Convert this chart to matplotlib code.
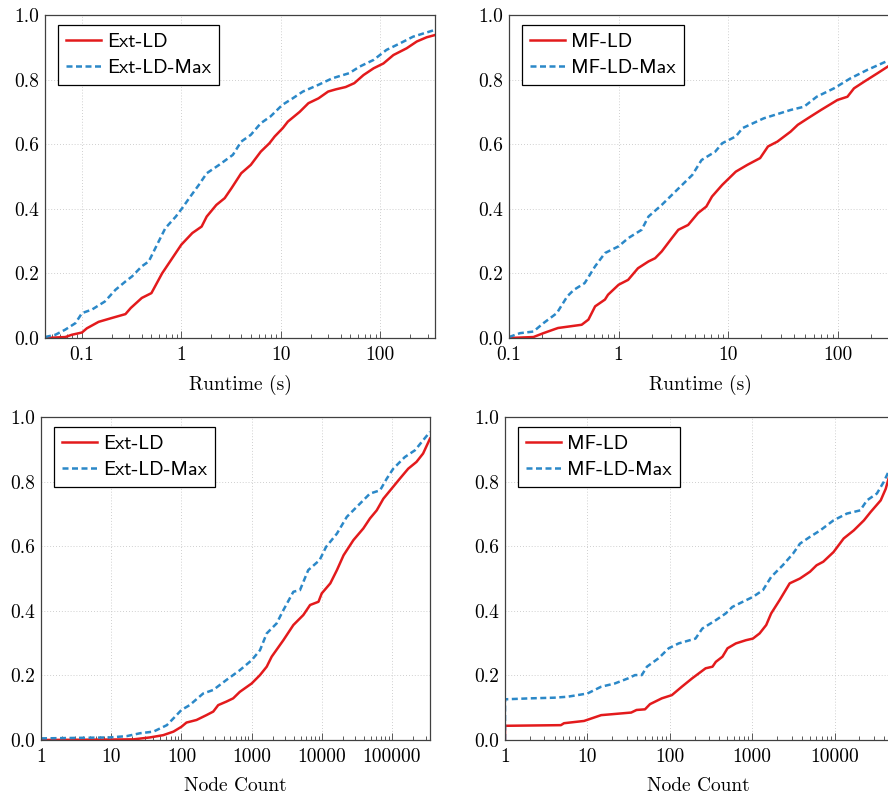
import matplotlib
matplotlib.use("Agg")
import matplotlib.pyplot as plt
from matplotlib.ticker import LogLocator, FuncFormatter, MultipleLocator, NullFormatter

plt.rcParams['axes.formatter.use_mathtext'] = True

# Runtime (s), Ext-LD vs Ext-LD-Max
rt_ext_x = [0.0425, 0.068, 0.079, 0.1, 0.112, 0.147, 0.2, 0.274, 0.31, 0.40, 0.5, 0.64, 0.81, 1.0,
            1.29, 1.6, 1.8, 2.25, 2.73, 3.2, 4.0, 5.0, 6.3, 7.7, 8.7, 10.5, 11.8, 15.5, 19, 24, 30,
            36, 45, 55, 68, 86, 108, 136, 185, 234, 294, 357]
rt_ext_y = [0.0, 0.003, 0.01, 0.017, 0.03, 0.05, 0.062, 0.074, 0.093, 0.124, 0.139, 0.20, 0.247, 0.289,
            0.325, 0.345, 0.376, 0.412, 0.433, 0.464, 0.51, 0.536, 0.577, 0.603, 0.624, 0.65, 0.67,
            0.70, 0.727, 0.742, 0.763, 0.77, 0.777, 0.789, 0.814, 0.835, 0.85, 0.876, 0.897, 0.918,
            0.931, 0.938]
rt_extmax_x = [0.0425, 0.054, 0.068, 0.086, 0.1, 0.126, 0.17, 0.217, 0.274, 0.32, 0.4, 0.47, 0.57, 0.69,
               0.88, 1.02, 1.2, 1.5, 1.8, 2.4, 3.3, 4.0, 5.0, 6.3, 7.9, 10.4, 13.2, 16.7, 24, 33, 49,
               62, 86, 116, 158, 215, 357]
rt_extmax_y = [0.003, 0.01, 0.026, 0.046, 0.077, 0.088, 0.113, 0.149, 0.175, 0.191, 0.222, 0.237, 0.289,
               0.34, 0.376, 0.402, 0.433, 0.474, 0.51, 0.536, 0.567, 0.608, 0.629, 0.665, 0.686, 0.722,
               0.742, 0.763, 0.784, 0.804, 0.82, 0.84, 0.861, 0.892, 0.912, 0.933, 0.954]

# Runtime (s), MF-LD vs MF-LD-Max
rt_mf_x = [0.1, 0.167, 0.206, 0.254, 0.28, 0.46, 0.53, 0.61, 0.75, 0.80, 1.0, 1.22, 1.5, 1.87, 2.15,
           2.47, 3.05, 3.5, 4.3, 5.3, 6.3, 7.1, 8.8, 11.7, 14.9, 19.5, 23, 28, 37, 43, 53, 70, 99,
           122, 140, 174, 230, 315]
rt_mf_y = [0.0, 0.003, 0.015, 0.026, 0.031, 0.041, 0.057, 0.098, 0.119, 0.134, 0.165, 0.18, 0.216,
           0.237, 0.247, 0.268, 0.309, 0.335, 0.35, 0.387, 0.407, 0.438, 0.474, 0.515, 0.536, 0.557,
           0.593, 0.608, 0.639, 0.66, 0.68, 0.706, 0.737, 0.747, 0.773, 0.794, 0.82, 0.85]
rt_mfmax_x = [0.1, 0.126, 0.167, 0.206, 0.273, 0.34, 0.39, 0.49, 0.61, 0.75, 1.0, 1.22, 1.62, 1.87,
              2.47, 3.3, 4.7, 5.7, 7.6, 8.8, 11.7, 13.5, 21, 37, 49, 64, 92, 130, 185, 315]
rt_mfmax_y = [0.003, 0.015, 0.02, 0.046, 0.077, 0.129, 0.149, 0.17, 0.222, 0.263, 0.284, 0.309, 0.335,
              0.376, 0.412, 0.454, 0.505, 0.551, 0.577, 0.603, 0.624, 0.65, 0.68, 0.706, 0.716, 0.747,
              0.773, 0.804, 0.83, 0.865]

# Node Count, Ext-LD vs Ext-LD-Max
nc_ext_x = [1, 20.7, 35.7, 55, 77, 100, 118, 164, 227, 284, 334, 438, 546, 678, 1000, 1315, 1640,
            1930, 2830, 3930, 5450, 6800, 8960, 9970, 13200, 16400, 20400, 28200, 39000, 48500,
            60500, 75200, 98500, 129000, 170000, 223000, 277000, 347000]
nc_ext_y = [0.0, 0.002, 0.008, 0.015, 0.026, 0.041, 0.054, 0.062, 0.077, 0.088, 0.108, 0.119, 0.129,
            0.149, 0.175, 0.201, 0.227, 0.258, 0.309, 0.356, 0.387, 0.418, 0.428, 0.454, 0.485,
            0.526, 0.572, 0.619, 0.655, 0.686, 0.711, 0.747, 0.778, 0.809, 0.84, 0.861, 0.887, 0.933]
nc_extmax_x = [1, 9.5, 16.6, 25.8, 40, 62, 81, 100, 131, 204, 284, 438, 678, 1000, 1315, 1640, 2270,
               2830, 3930, 4880, 6400, 9300, 11500, 16400, 22700, 35000, 48500, 67500, 84000,
               104000, 152000, 212000, 347000]
nc_extmax_y = [0.005, 0.008, 0.012, 0.021, 0.026, 0.046, 0.072, 0.093, 0.108, 0.144, 0.155, 0.186,
               0.216, 0.247, 0.278, 0.33, 0.361, 0.402, 0.459, 0.464, 0.526, 0.557, 0.598, 0.639,
               0.691, 0.732, 0.763, 0.773, 0.809, 0.84, 0.876, 0.897, 0.954]

# Node Count, MF-LD vs MF-LD-Max
nc_mf_x = [1, 1, 4.77, 5.2, 9.1, 14.7, 34, 39.5, 50, 57.5, 80, 106, 140, 187, 272, 330, 362, 436, 502,
           633, 840, 1020, 1230, 1480, 1700, 2150, 2850, 3800, 5030, 6050, 7290, 9720, 12900,
           17100, 22700, 27400, 36300, 41800, 50000]
nc_mf_y = [0.0, 0.044, 0.046, 0.052, 0.059, 0.077, 0.085, 0.093, 0.095, 0.111, 0.129, 0.139, 0.165,
           0.191, 0.222, 0.227, 0.242, 0.258, 0.284, 0.299, 0.309, 0.314, 0.33, 0.356, 0.392,
           0.433, 0.485, 0.5, 0.521, 0.541, 0.552, 0.582, 0.624, 0.649, 0.68, 0.706, 0.742,
           0.778, 0.85]
nc_mfmax_x = [1, 1, 2.04, 3.95, 5.75, 10, 14.7, 21.5, 31.3, 37.8, 45.7, 52.8, 73, 97, 128, 205, 248,
              362, 478, 574, 770, 1020, 1350, 1700, 2350, 3130, 3800, 5030, 6700, 9700, 14100,
              20500, 24700, 32600, 39500, 50000]
nc_mfmax_y = [0.0, 0.126, 0.129, 0.131, 0.134, 0.144, 0.165, 0.175, 0.191, 0.201, 0.201, 0.227,
              0.253, 0.284, 0.299, 0.314, 0.345, 0.371, 0.392, 0.412, 0.428, 0.443, 0.464, 0.505,
              0.541, 0.577, 0.608, 0.629, 0.649, 0.68, 0.701, 0.711, 0.742, 0.763, 0.799, 0.855]

RED = '#e31a1c'
BLUE = '#2b88c8'
SPINE = '#404040'


def fmt_log(v, pos):
    return '%g' % v


def desenhar(ax, xs, ys, xs2, ys2, nomes, xlim, xlabel):
    ax.grid(True, which='major', color='#c0c0c0', linestyle=(0, (1, 2.5)), linewidth=0.6)
    ax.set_axisbelow(True)
    ax.plot(xs, ys, color=RED, lw=1.8, label=nomes[0], solid_joinstyle='round')
    ax.plot(xs2, ys2, color=BLUE, lw=1.8, dashes=(2.4, 1.4), label=nomes[1])
    ax.set_xscale('log')
    ax.set_xlim(*xlim)
    ax.set_ylim(0, 1)
    ax.xaxis.set_major_locator(LogLocator(base=10, numticks=20))
    ax.xaxis.set_minor_locator(LogLocator(base=10, subs=range(2, 10), numticks=20))
    ax.xaxis.set_major_formatter(FuncFormatter(fmt_log))
    ax.xaxis.set_minor_formatter(NullFormatter())
    ax.yaxis.set_major_locator(MultipleLocator(0.2))
    ax.yaxis.set_major_formatter(FuncFormatter(lambda v, p: '%.1f' % v))
    ax.tick_params(axis='x', which='major', direction='in', length=5, width=0.6, color=SPINE, pad=6)
    ax.tick_params(axis='x', which='minor', direction='in', length=3, width=0.6, color=SPINE)
    ax.tick_params(axis='y', which='both', length=0, pad=4)
    for lab in ax.get_xticklabels() + ax.get_yticklabels():
        lab.set_fontfamily('cmr10')
        lab.set_fontsize(14)
    for s in ax.spines.values():
        s.set_color(SPINE)
        s.set_linewidth(0.9)
    ax.set_xlabel(xlabel, family='cmr10', fontsize=14, labelpad=8)
    leg = ax.legend(loc='upper left', bbox_to_anchor=(0.033, 0.969), borderaxespad=0,
                    prop={'family': 'cmss10', 'size': 14.5}, fancybox=False, framealpha=1,
                    edgecolor='black', handlelength=1.75, handletextpad=0.3, borderpad=0.4,
                    labelspacing=0.4)
    leg.get_frame().set_linewidth(0.9)


fig = plt.figure(figsize=(8.88, 7.94), dpi=100)
ax1 = fig.add_axes([0.0507, 0.5743, 0.4392, 0.4068])
ax2 = fig.add_axes([0.5732, 0.5743, 0.432, 0.4068])
ax3 = fig.add_axes([0.0462, 0.0680, 0.4380, 0.4068])
ax4 = fig.add_axes([0.5687, 0.0680, 0.436, 0.4068])

desenhar(ax1, rt_ext_x, rt_ext_y, rt_extmax_x, rt_extmax_y, ['Ext-LD', 'Ext-LD-Max'],
         (0.0425, 357), 'Runtime (s)')
desenhar(ax2, rt_mf_x, rt_mf_y, rt_mfmax_x, rt_mfmax_y, ['MF-LD', 'MF-LD-Max'],
         (0.1, 315), 'Runtime (s)')
desenhar(ax3, nc_ext_x, nc_ext_y, nc_extmax_x, nc_extmax_y, ['Ext-LD', 'Ext-LD-Max'],
         (1, 347000), 'Node Count')
desenhar(ax4, nc_mf_x, nc_mf_y, nc_mfmax_x, nc_mfmax_y, ['MF-LD', 'MF-LD-Max'],
         (1, 50000), 'Node Count')

fig.savefig('out.png', dpi=100)
